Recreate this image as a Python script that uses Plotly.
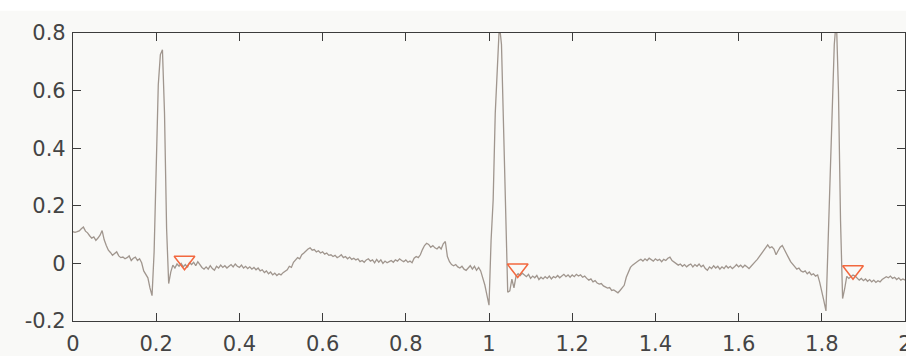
import numpy as np
import plotly.graph_objects as go

# ECG lead trace, sampled at 200 Hz over 2 s (mV)
fs = 200
ecg_mv = [
    0.110, 0.108, 0.110, 0.113, 0.120, 0.126, 0.112, 0.106, 0.096, 0.088,
    0.092, 0.080, 0.088, 0.098, 0.114, 0.082, 0.062, 0.046, 0.038, 0.028,
    0.034, 0.040, 0.026, 0.020, 0.022, 0.016, 0.020, 0.026, 0.010, 0.018,
    0.022, 0.010, 0.016, 0.002, -0.026, -0.038, -0.050, -0.085, -0.112, 0.040,
    0.300, 0.620, 0.725, 0.742, 0.520, 0.120, -0.070, -0.030, -0.006, -0.016,
    -0.002, -0.010, 0.000, -0.012, -0.004, -0.014, 0.003, -0.004, 0.004, -0.008,
    0.006, -0.006, -0.014, -0.020, -0.012, -0.020, -0.008, -0.018, -0.024, -0.010,
    -0.016, -0.006, -0.014, -0.008, -0.016, -0.010, -0.004, -0.012, -0.002, -0.010,
    -0.014, -0.006, -0.016, -0.010, -0.018, -0.012, -0.020, -0.014, -0.022, -0.016,
    -0.026, -0.022, -0.032, -0.026, -0.036, -0.030, -0.040, -0.034, -0.042, -0.036,
    -0.040, -0.032, -0.026, -0.022, -0.010, -0.014, 0.004, 0.012, 0.020, 0.016,
    0.030, 0.036, 0.044, 0.050, 0.054, 0.046, 0.048, 0.040, 0.044, 0.036,
    0.040, 0.032, 0.036, 0.028, 0.030, 0.024, 0.028, 0.020, 0.024, 0.030,
    0.020, 0.024, 0.016, 0.022, 0.014, 0.018, 0.012, 0.016, 0.006, 0.010,
    0.004, 0.012, 0.016, 0.008, 0.012, 0.002, 0.014, 0.004, 0.012, 0.000,
    0.008, 0.002, 0.006, 0.010, 0.004, 0.012, 0.008, 0.016, 0.010, 0.006,
    0.012, 0.004, 0.008, 0.002, 0.018, 0.024, 0.020, 0.030, 0.048, 0.062,
    0.070, 0.066, 0.056, 0.062, 0.054, 0.050, 0.058, 0.050, 0.068, 0.076,
    0.024, 0.006, -0.004, -0.008, -0.004, -0.012, -0.016, -0.010, -0.020, -0.024,
    -0.016, -0.008, -0.020, -0.010, -0.024, -0.014, -0.026, -0.050, -0.075, -0.110,
    -0.145, 0.080, 0.220, 0.520, 0.700, 0.830, 0.760, 0.450, 0.120, -0.100,
    -0.095, -0.055, -0.085, -0.044, -0.036, -0.042, -0.034, -0.040, -0.046, -0.038,
    -0.052, -0.044, -0.050, -0.042, -0.056, -0.048, -0.054, -0.046, -0.052, -0.044,
    -0.054, -0.046, -0.050, -0.042, -0.050, -0.044, -0.038, -0.046, -0.040, -0.048,
    -0.040, -0.046, -0.038, -0.044, -0.040, -0.048, -0.044, -0.052, -0.058, -0.054,
    -0.064, -0.060, -0.068, -0.072, -0.070, -0.078, -0.082, -0.086, -0.084, -0.094,
    -0.092, -0.098, -0.102, -0.094, -0.086, -0.076, -0.048, -0.030, -0.014, -0.006,
    0.000, 0.006, 0.010, 0.014, 0.008, 0.016, 0.010, 0.018, 0.012, 0.008,
    0.016, 0.010, 0.014, 0.006, 0.014, 0.010, 0.018, 0.022, 0.010, 0.004,
    0.000, -0.006, -0.002, -0.010, -0.004, -0.012, -0.006, -0.002, -0.012, -0.004,
    -0.010, -0.002, -0.012, -0.006, -0.018, -0.024, -0.012, -0.018, -0.008, -0.016,
    -0.010, -0.020, -0.012, -0.018, -0.008, -0.016, -0.010, -0.018, -0.012, -0.004,
    -0.012, -0.006, -0.014, -0.006, -0.012, -0.018, -0.010, 0.000, 0.006, 0.014,
    0.024, 0.032, 0.042, 0.052, 0.064, 0.054, 0.058, 0.050, 0.030, 0.044,
    0.056, 0.062, 0.046, 0.032, 0.020, 0.006, -0.004, -0.012, -0.020, -0.016,
    -0.026, -0.030, -0.026, -0.036, -0.030, -0.040, -0.036, -0.044, -0.040, -0.066,
    -0.095, -0.130, -0.165, 0.060, 0.300, 0.480, 0.760, 0.850, 0.600, 0.150,
    -0.122, -0.088, -0.045, -0.052, -0.046, -0.040, -0.044, -0.050, -0.058, -0.052,
    -0.060, -0.054, -0.062, -0.056, -0.064, -0.058, -0.066, -0.060, -0.064, -0.056,
    -0.052, -0.046, -0.050, -0.044, -0.052, -0.048, -0.056, -0.050, -0.058, -0.054,
    -0.058,
]
time_s = np.arange(len(ecg_mv)) / fs

# Detected fiducial points (s, mV)
mark_t = [0.268, 1.069, 1.875]
mark_v = [0.009, -0.018, -0.024]

x_ticks = [0, 0.2, 0.4, 0.6, 0.8, 1.0, 1.2, 1.4, 1.6, 1.8, 2.0]
x_labels = ["0", "0.2", "0.4", "0.6", "0.8", "1", "1.2", "1.4", "1.6", "1.8", "2"]
y_ticks = [-0.2, 0, 0.2, 0.4, 0.6, 0.8]
y_labels = ["-0.2", "0", "0.2", "0.4", "0.6", "0.8"]

bg = "#f9f9f7"
axis_col = "#3c3c3c"
font = dict(family="DejaVu Sans", size=21, color="#444444")

fig = go.Figure()
fig.add_trace(go.Scatter(
    x=time_s, y=ecg_mv, mode="lines",
    line=dict(color="#a0968e", width=1.3),
    showlegend=False, hoverinfo="skip",
))
fig.add_trace(go.Scatter(
    x=mark_t, y=mark_v, mode="markers",
    marker=dict(symbol="triangle-down-open", size=18, color="#f2683f",
                line=dict(width=1.5, color="#f2683f")),
    showlegend=False, hoverinfo="skip",
))

axis_common = dict(
    showgrid=False, zeroline=False, showline=True, linecolor=axis_col,
    linewidth=1.2, mirror="ticks", ticks="inside", ticklen=8,
    tickcolor=axis_col, tickwidth=1.2, tickfont=font,
    ticklabeloverflow="allow", automargin=False,
)
fig.update_xaxes(range=[0, 2], tickvals=x_ticks, ticktext=x_labels,
                 ticklabelstandoff=4, **axis_common)
fig.update_yaxes(range=[-0.2, 0.8], tickvals=y_ticks, ticktext=y_labels,
                 ticklabelstandoff=2, **axis_common)

fig.update_layout(
    width=906, height=356,
    margin=dict(l=73, r=1, t=33, b=35),
    paper_bgcolor=bg, plot_bgcolor=bg,
    shapes=[dict(type="rect", xref="paper", yref="paper", x0=-0.1, x1=1.1,
                 y0=1.077, y1=1.2, fillcolor="white", line_width=0,
                 layer="below")],
)

fig.write_html("out.html")
